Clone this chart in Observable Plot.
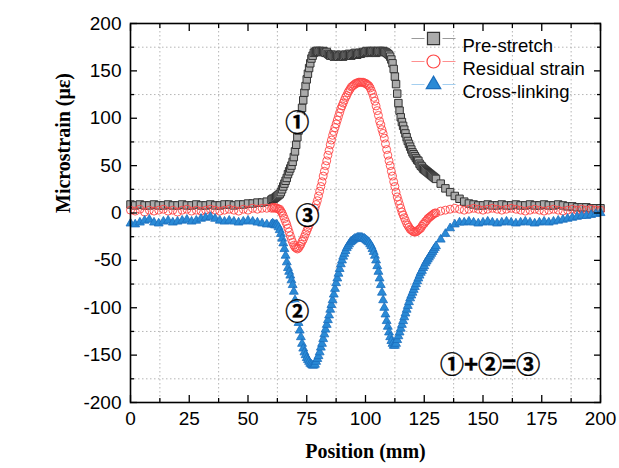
<!DOCTYPE html>
<html><head><meta charset="utf-8">
<script src="https://cdn.jsdelivr.net/npm/d3@7"></script>
<script src="https://cdn.jsdelivr.net/npm/@observablehq/plot@0.6"></script>
<style>html,body{margin:0;padding:0;background:#fff}#chart{width:619px;height:468px}</style>
</head><body><div id="chart"></div>
<script>
// Positions (mm)
const positions = [
 0,2,4,6,8,10,12,14,16,18,20,22,24,26,28,30,32,34,36,38,40,42,44,46,48,50,52,54,56,58,
 60,60.5,61,61.5,62,62.5,63,63.5,64,64.5,
 65,65.5,66,66.5,67,67.5,68,68.5,69,69.5,
 70,70.5,71,71.5,72,72.5,73,73.5,74,74.5,
 75,75.5,76,76.5,77,77.5,78,78.5,79,79.5,
 80,80.5,81,81.5,82,82.5,83,83.5,84,84.5,
 85,85.5,86,86.5,87,87.5,88,88.5,89,89.5,
 90,90.5,91,91.5,92,92.5,93,93.5,94,94.5,
 95,95.5,96,96.5,97,97.5,98,98.5,99,99.5,
 100,100.5,101,101.5,102,102.5,103,103.5,104,104.5,
 105,105.5,106,106.5,107,107.5,108,108.5,109,109.5,
 110,110.5,111,111.5,112,112.5,113,113.5,114,114.5,
 115,115.5,116,116.5,117,117.5,118,118.5,119,119.5,
 120,120.5,121,121.5,122,122.5,123,123.5,124,124.5,
 125,125.5,126,126.5,127,127.5,128,128.5,129,129.5,
 130,
 132,134,136,138,140,142,144,146,148,150,152,154,156,158,160,162,164,166,168,170,
 172,174,176,178,180,182,184,186,188,190,192,194,196,198,200
];
// Pre-stretch (microstrain)
const preStretch = [
 9,8,9,8,8,9,8,8,9,8,8,9,8,8,9,8,8,9,8,8,9,9,8,9,9,10,10,11,11,12,
 14,15,15,16,17,18,19,20,22,25,
 28,31,34,37,41,44,47,50,54,59,
 65,72,80,87,94,103,111,119,127,134,
 141,147,153,158,163,166,169,170,171,171,
 170,171,170,170,171,170,169,170,168,167,
 166,167,166,165,166,167,166,165,166,167,
 166,165,166,167,166,167,168,167,166,167,
 168,169,168,167,168,169,168,169,170,169,
 170,171,170,169,170,171,170,171,170,169,
 170,171,170,171,170,171,170,170,169,168,
 167,165,162,158,152,144,136,126,116,108,
 101,96,92,88,84,80,76,73,70,67,
 64,62,60,58,56,55,52,50,49,47,
 46,45,44,43,42,41,40,39,38,37,
 36,
 31,26,22,18,15,12,10,9,8,8,9,8,8,9,8,8,9,8,8,9,
 8,8,9,8,8,9,8,7,7,6,6,6,5,5,5
];
// Residual strain (microstrain)
const residual = [
 3,2,4,1,3,2,3,4,2,3,1,3,4,2,3,2,3,4,3,2,3,4,3,2,4,3,5,4,5,5,
 5,6,5,6,5,5,4,4,2,0,
 -3,-6,-9,-12,-16,-20,-24,-28,-31,-34,
 -36,-37,-38,-37,-35,-33,-30,-28,-25,-22,
 -19,-16,-13,-10,-6,-2,1,5,9,13,
 18,23,28,33,39,44,50,55,61,66,
 72,77,82,86,90,94,98,102,106,110,
 113,116,119,122,124,127,129,131,133,134,
 135,136,137,137,138,138,138,138,138,137,
 137,136,135,134,132,129,126,122,118,113,
 108,103,97,93,88,84,79,73,67,61,
 55,50,44,39,33,28,22,17,13,9,
 5,1,-2,-5,-8,-11,-13,-15,-17,-18,
 -19,-20,-20,-20,-19,-18,-17,-16,-14,-12,
 -11,-9,-8,-6,-5,-4,-3,-2,-1,0,
 0,
 2,3,4,5,4,3,4,5,4,3,4,5,4,3,4,5,4,3,2,3,
 4,3,2,3,4,3,2,3,4,3,4,3,4,3,3
];
// Cross-linking (microstrain)
const crossLinking = [
 -11,-12,-10,-8,-7,-10,-11,-9,-8,-10,-9,-8,-7,-9,-8,-6,-5,-4,-6,-8,-9,-8,-9,-10,-9,-8,-9,-10,-11,-12,
 -12,-11,-12,-13,-12,-13,-15,-18,-22,-27,
 -32,-38,-45,-52,-58,-62,-66,-71,-76,-83,
 -92,-100,-108,-116,-124,-131,-138,-143,-147,-150,
 -153,-155,-157,-159,-160,-161,-161,-160,-157,-154,
 -151,-147,-142,-138,-133,-128,-123,-118,-113,-108,
 -102,-97,-92,-86,-80,-74,-69,-64,-59,-54,
 -50,-46,-43,-40,-37,-35,-33,-31,-30,-29,
 -28,-27,-27,-26,-26,-26,-26,-26,-27,-27,
 -28,-29,-30,-31,-33,-35,-38,-41,-45,-50,
 -56,-62,-69,-76,-84,-92,-100,-107,-114,-120,
 -126,-131,-135,-138,-140,-140,-138,-134,-130,-126,
 -122,-118,-114,-110,-106,-102,-98,-94,-90,-87,
 -84,-81,-78,-75,-72,-69,-66,-63,-61,-58,
 -56,-53,-51,-49,-47,-45,-43,-41,-39,-37,
 -35,
 -28,-22,-16,-12,-10,-10,-9,-10,-11,-10,-9,-10,-11,-10,-9,-10,-11,-10,-9,-10,
 -11,-10,-9,-10,-9,-8,-7,-6,-5,-4,-3,-3,-2,-1,0
];
const xTicks = [0,25,50,75,100,125,150,175,200];
const xMinor = [12.5,37.5,62.5,87.5,112.5,137.5,162.5,187.5];
const yTicks = [-200,-150,-100,-50,0,50,100,150,200];
const yMinor = [-175,-125,-75,-25,25,75,125,175];
const seriesNames = ["Pre-stretch","Residual strain","Cross-linking"];
const annotations = [
 {label:"\u2460", x:71, y:95, badge:true},
 {label:"\u2461", x:71, y:-105, badge:true},
 {label:"\u2462", x:75.3, y:-3, badge:true},
 {label:"\u2460+\u2461=\u2462", x:153, y:-161, badge:false}
];
const xLabel = "Position (mm)";
const yLabel = "Microstrain (\u03bc\u03b5)";

const series = [preStretch, residual, crossLinking].map(vals => positions.map((x,i)=>({x, y: vals[i]})));

const styles = [
 {symbol:"square", r:4.2, fill:"#ababab", stroke:"#333333", strokeWidth:1, lr:6.8, line:"#9a9a9a"},
 {symbol:"circle", r:4, fill:"none", stroke:"#ff4545", strokeWidth:0.9, lr:6.5, line:"#ff9090"},
 {symbol:"triangle", r:3.3, fill:"#2a8ad6", stroke:"#1c6fbe", strokeWidth:0.8, lr:5.4, line:"#a4cff0"}
];

const legendLine = {draw(ctx){ ctx.moveTo(-22,0); ctx.lineTo(-9,0); ctx.moveTo(9,0); ctx.lineTo(22,0); }};
const fmt = d => String(d);

const marks = [
 Plot.gridX(xMinor, {stroke:"#b5b5b5", strokeOpacity:1, strokeDasharray:"1.5,2.5"}),
 Plot.gridY(yMinor, {stroke:"#b5b5b5", strokeOpacity:1, strokeDasharray:"1.5,2.5"}),
];
series.forEach((d,i)=>{
 const s = styles[i];
 marks.push(Plot.dot(d, {x:"x", y:"y", symbol:s.symbol, r:s.r, fill:s.fill, stroke:s.stroke, strokeWidth:s.strokeWidth}));
});
seriesNames.forEach((name,i)=>{
 const s = styles[i];
 const dy = 15 + 23*i;
 marks.push(Plot.dot([name], {frameAnchor:"top-right", dx:-167, dy, symbol:legendLine, r:5, stroke:s.line, strokeWidth:1.2, fill:"none"}));
 marks.push(Plot.dot([name], {frameAnchor:"top-right", dx:-167, dy, symbol:s.symbol, r:s.lr, fill:s.fill, stroke:s.stroke, strokeWidth:1.2}));
 marks.push(Plot.text([name], {frameAnchor:"top-right", dx:-138, dy, text:d=>d, textAnchor:"start", fontSize:18.5, fill:"#000"}));
});
marks.push(
 Plot.dot(annotations.filter(d=>d.badge), {x:"x", y:"y", r:10.5, fill:"#fff", stroke:"none"}),
 Plot.text(annotations, {x:"x", y:"y", text:"label", fontSize:24, fontFamily:"'Noto Sans CJK SC'", fontWeight:"bold", fill:"#000", stroke:"#000", strokeWidth:0.4}),
 Plot.frame({stroke:"#000", strokeWidth:1.6}),
 // inward ticks
 Plot.axisX(xTicks, {anchor:"bottom", tickSize:7, dy:-7, tickFormat:()=>"", label:null, strokeWidth:1.3}),
 Plot.axisX(xMinor, {anchor:"bottom", tickSize:4, dy:-4, tickFormat:()=>"", label:null, strokeWidth:1.3}),
 Plot.axisX(xTicks, {anchor:"top", tickSize:7, dy:7, tickFormat:()=>"", label:null, strokeWidth:1.3}),
 Plot.axisX(xMinor, {anchor:"top", tickSize:4, dy:4, tickFormat:()=>"", label:null, strokeWidth:1.3}),
 Plot.axisY(yTicks, {anchor:"left", tickSize:7, dx:7, tickFormat:()=>"", label:null, strokeWidth:1.3}),
 Plot.axisY(yMinor, {anchor:"left", tickSize:4, dx:4, tickFormat:()=>"", label:null, strokeWidth:1.3}),
 Plot.axisY(yTicks, {anchor:"right", tickSize:7, dx:-7, tickFormat:()=>"", label:null, strokeWidth:1.3}),
 Plot.axisY(yMinor, {anchor:"right", tickSize:4, dx:-4, tickFormat:()=>"", label:null, strokeWidth:1.3}),
 // tick labels
 Plot.axisX(xTicks, {anchor:"bottom", tickSize:0, tickPadding:9, label:null, fontSize:19, tickFormat:fmt}),
 Plot.axisY(yTicks, {anchor:"left", tickSize:0, tickPadding:9, label:null, fontSize:19, tickFormat:fmt}),
 // axis titles
 Plot.text([xLabel], {frameAnchor:"bottom", dy:55, text:d=>d, fontFamily:"Liberation Serif", fontWeight:"bold", fontSize:20, fill:"#000"}),
 Plot.text([yLabel], {frameAnchor:"left", dx:-67, rotate:-90, text:d=>d, fontFamily:"Liberation Serif", fontWeight:"bold", fontSize:20, fill:"#000"})
);

const chart = Plot.plot({
 width:619, height:468,
 marginLeft:130, marginRight:19, marginTop:23, marginBottom:66,
 x:{domain:[0,200]},
 y:{domain:[-200,200]},
 style:{fontFamily:"Arial, 'Liberation Sans', sans-serif", fontSize:"19px", background:"#fff", color:"#000"},
 marks
});
document.getElementById("chart").appendChild(chart);
</script>
</body></html>
